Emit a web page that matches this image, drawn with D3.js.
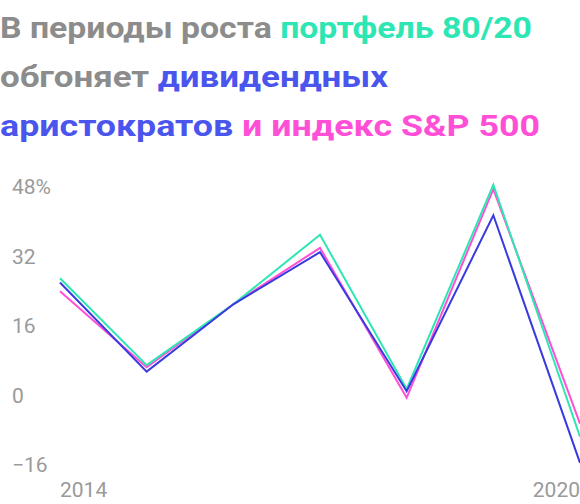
<!DOCTYPE html>
<html lang="ru">
<head>
	<meta charset="utf-8">
	<script src="https://d3js.org/d3.v7.min.js"></script>
	<style>
		body { margin: 0; background: #fff; }
		text { font-family: Roboto, "Noto Sans", sans-serif; }
	</style>
</head>
<body>
	<script>
		var width = 580, height = 504;

		// chart data
		var points = [0, 1, 2, 3, 4, 5, 6];
		var mix8020 = [27, 7, 21, 37, 1.5, 48.5, -9.5];
		var aristocrats = [26, 5.5, 21, 33, 1, 41.5, -15.5];
		var sp500 = [24, 6.5, 21, 34, -0.5, 47.5, -6.5];
		var yTicks = [48, 32, 16, 0, -16];
		var xLabels = ["2014", "2020"];

		var svg = d3.select("body").append("svg")
			.attr("width", width).attr("height", height);

		// title, three lines with coloured pieces
		var title = [
			[["В периоды роста ", "#8c8c8c"], ["портфель 80/20", "#2ee6b4"]],
			[["обгоняет ", "#8c8c8c"], ["дивидендных", "#4a55ee"]],
			[["аристократов ", "#4a55ee"], ["и индекс S&P 500", "#ff4fd6"]]
		];
		var titleWidths = [532, 388, 540];
		title.forEach(function(line, i) {
			var t = svg.append("text")
				.attr("x", 0).attr("y", 38 + i * 49)
				.attr("font-size", 30).attr("font-weight", 700)
				.attr("textLength", titleWidths[i])
				.attr("lengthAdjust", "spacingAndGlyphs");
			line.forEach(function(p) {
				t.append("tspan").attr("fill", p[1]).text(p[0]);
			});
		});

		var x = d3.scaleLinear().domain([0, 6]).range([60, 580]);
		var y = d3.scaleLinear().domain([-16, 48]).range([465, 187]);

		svg.selectAll(".ytick").data(yTicks).enter().append("text")
			.attr("x", 12).attr("y", function(d) { return y(d) + 7; })
			.attr("fill", "#9a9a9a").attr("font-size", 21)
			.text(function(d, i) { return (d < 0 ? "\u2212" + Math.abs(d) : d) + (i === 0 ? "%" : ""); });

		svg.append("text").attr("x", 60).attr("y", 497)
			.attr("fill", "#9a9a9a").attr("font-size", 21).text(xLabels[0]);
		svg.append("text").attr("x", 580).attr("y", 497).attr("text-anchor", "end")
			.attr("fill", "#9a9a9a").attr("font-size", 21).text(xLabels[1]);

		var line = d3.line().x(function(d, i) { return x(points[i]); }).y(function(d) { return y(d); });

		[[sp500, "#ff4fd6"], [mix8020, "#2ee6b4"], [aristocrats, "#3a3ae0"]].forEach(function(s) {
			svg.append("path").datum(s[0])
				.attr("d", line).attr("fill", "none")
				.attr("stroke", s[1]).attr("stroke-width", 2);
		});
	</script>
</body>
</html>
